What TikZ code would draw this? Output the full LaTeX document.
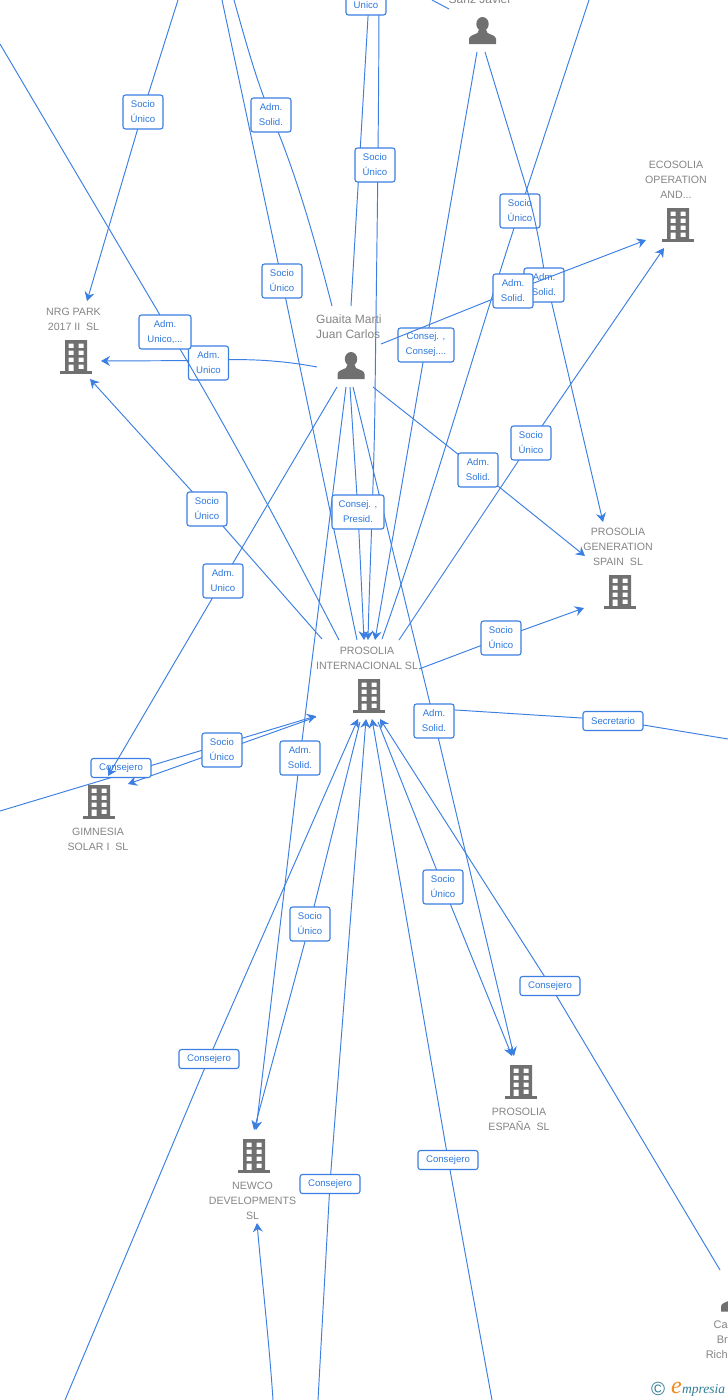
\documentclass[tikz,border=0pt]{standalone}
\usepackage{fontspec}
\setmainfont{Liberation Sans}
\newfontfamily\logofont{Liberation Serif}
\usetikzlibrary{arrows.meta}
\definecolor{edgeblue}{HTML}{3B7FE3}
\definecolor{labblue}{HTML}{2F78DC}
\definecolor{nameGray}{HTML}{858585}
\definecolor{iconGray}{HTML}{707070}
\definecolor{logoTeal}{HTML}{2F7F96}
\definecolor{logoOrange}{HTML}{F08A1D}
\tikzset{
  conn/.style={draw=edgeblue,line width=0.95pt},
  tipped/.style={conn,-{Stealth[length=9pt,width=10pt,inset=3pt]}},
  lab/.style={draw=edgeblue,line width=1.1pt,fill=white,rounded corners=2.5pt,text=labblue,yshift=-1pt,
    font=\fontsize{9.6}{15}\selectfont,align=center,inner sep=0pt,minimum width=40pt,minimum height=34pt},
  labone/.style={lab,minimum width=60pt,minimum height=19pt},
  compname/.style={text=nameGray,yshift=-1pt,font=\fontsize{10.6}{15}\selectfont,align=center,inner sep=0pt},
  persname/.style={text=nameGray,yshift=-1pt,font=\fontsize{12}{15}\selectfont,inner sep=0pt},
  bldg/.pic={
    \fill[iconGray] (-16,17) rectangle (16,14.4);
    \fill[iconGray,even odd rule] (-11,-17) rectangle (11,14.6)
      (-7.5,-13.5) rectangle (-2.5,-9) (2.5,-13.5) rectangle (7.5,-9)
      (-7.5,-6.5) rectangle (-2.5,-2) (2.5,-6.5) rectangle (7.5,-2)
      (-7.5,0.5) rectangle (-2.5,5) (2.5,0.5) rectangle (7.5,5)
      (-7.5,7.5) rectangle (-2.5,14.6) (2.5,7.5) rectangle (7.5,12);
  },
  pers/.pic={
    \fill[iconGray] (0,-6.5) ellipse (6.2pt and 7pt);
    \fill[iconGray] (-13.5,13.5) -- (-13.5,8.5) .. controls (-13.5,5) and (-8,4.2) .. (-5,2.5)
      -- (-3.5,-1) -- (3.5,-1) -- (5,2.5) .. controls (8,4.2) and (13.5,5) .. (13.5,8.5) -- (13.5,13.5) -- cycle;
  }
}
\begin{document}
\begin{tikzpicture}[x=1pt,y=-1pt]
\clip (0,0) rectangle (728,1400);
\fill[white] (0,0) rectangle (728,1400);

% free ends
\coordinate (a1) at (178,0);      \coordinate (b1) at (87,301);
\coordinate (a2) at (0,44);       \coordinate (b2) at (339,640);
\coordinate (a3) at (234,0);      \coordinate (b3) at (332,306);
\coordinate (a4) at (222,0);      \coordinate (b4) at (357,640);
\coordinate (a5) at (369,0);      \coordinate (b5) at (351,306);
\coordinate (a6) at (379,0);      \coordinate (b6) at (368,640);
\coordinate (a7) at (350,387);    \coordinate (b7) at (364,640);
\coordinate (a8) at (477,52);     \coordinate (b8) at (375,640);
\coordinate (a9) at (485,52);     \coordinate (b9) at (603,522);
\coordinate (a10) at (589,0);     \coordinate (b10) at (382,639);
\coordinate (a11) at (381,344);   \coordinate (b11) at (646,240);
\coordinate (a12) at (399,640);   \coordinate (b12) at (664,248);
\coordinate (a13) at (373,387);   \coordinate (b13) at (585,556);
\coordinate (a14) at (419,669);   \coordinate (b14) at (584,608);
\coordinate (a15) at (317,367);   \coordinate (b15) at (101,361);
\coordinate (a16) at (322,639);   \coordinate (b16) at (90,379);
\coordinate (a17) at (337,387);   \coordinate (b17) at (108,776);
\coordinate (a18) at (346,387);   \coordinate (b18) at (256,1130);
\coordinate (a19) at (353,387);   \coordinate (b19) at (514,1056);
\coordinate (a20) at (0,811);     \coordinate (b20) at (316,716);
\coordinate (a21) at (316,717);   \coordinate (b21) at (128,784);
\coordinate (a22) at (360,722);   \coordinate (b22) at (254,1130);
\coordinate (a23) at (378,722);   \coordinate (b23) at (512,1056);
\coordinate (a24) at (65,1400);   \coordinate (b24) at (358,719);
\coordinate (a25) at (318,1400);  \coordinate (b25) at (366,719);
\coordinate (a26) at (492,1400);  \coordinate (b26) at (372,719);
\coordinate (a27) at (720,1270);  \coordinate (b27) at (380,719);
\coordinate (a28) at (273,1400);  \coordinate (b28) at (257,1223);
\coordinate (a29) at (432,0);     \coordinate (b29) at (449,9);
\coordinate (a30) at (440,709);   \coordinate (b30) at (728,739);

% company and person names
\node[compname] (nrg) at (73.5,318.5) {NRG PARK\\2017 II\ \ SL};
\node[compname] (eco) at (676,179) {ECOSOLIA\\OPERATION\\AND...};
\node[compname] (gen) at (618,546) {PROSOLIA\\GENERATION\\SPAIN\ \ SL};
\node[compname] (intl) at (367,657.5) {PROSOLIA\\INTERNACIONAL SL};
\node[compname] (gim) at (98,838.5) {GIMNESIA\\SOLAR I\ \ SL};
\node[compname] (esp) at (519,1118.5) {PROSOLIA\\ESPAÑA\ \ SL};
\node[compname] (newco) at (252.5,1200) {NEWCO\\DEVELOPMENTS\\SL};
\node[persname,align=left,anchor=west] (guaita) at (316,325.5) {Guaita Marti\\Juan Carlos};
\node[persname,anchor=center] (sanz) at (480,-2) {Sanz Javier};
\node[persname,align=right,anchor=east,font=\fontsize{11}{15}\selectfont] (rich) at (728,1339) {Ca\\Br\\Rich};

% icons
\pic at (76,357) {bldg};
\pic at (678,225) {bldg};
\pic at (620,592) {bldg};
\pic at (369,696) {bldg};
\pic at (99,802) {bldg};
\pic at (521,1082) {bldg};
\pic at (254,1156) {bldg};
\pic at (351,365.5) {pers};
\pic at (482.5,30.5) {pers};
\pic at (734.5,1298) {pers};

% connectors and their labels
\draw[conn] (a29) -- (b29);
\draw[conn] (a24) -- (209,1058) coordinate (j24);
\draw[tipped] (j24) -- (b24);
\node[labone] (l24) at (209,1058) {Consejero};
\draw[conn] (a25) -- (330,1183) coordinate (j25);
\draw[tipped] (j25) -- (b25);
\node[labone] (l25) at (330,1183) {Consejero};
\draw[conn] (a26) -- (448,1159) coordinate (j26);
\draw[tipped] (j26) -- (b26);
\node[labone] (l26) at (448,1159) {Consejero};
\draw[conn] (a27) -- (550,985) coordinate (j27);
\draw[tipped] (j27) -- (b27);
\node[labone] (l27) at (550,985) {Consejero};
\draw[tipped] (a28) .. controls (269,1340) and (262,1280) .. (b28);

\draw[conn] (a22) -- (310,923) coordinate (j22);
\draw[tipped] (j22) -- (b22);
\node[lab] (l22) at (310,923) {Socio\\Único};
\draw[conn] (a23) -- (443,886) coordinate (j23);
\draw[tipped] (j23) -- (b23);
\node[lab] (l23) at (443,886) {Socio\\Único};
\draw[conn] (a18) -- (300,757) coordinate (j18);
\draw[tipped] (j18) -- (b18);
\node[lab] (l18) at (300,757) {Adm.\\Solid.};

\draw[conn] (a19) -- (434,720) coordinate (j19);
\draw[tipped] (j19) -- (b19);
\draw[conn] (a30) -- (613,720) coordinate (j30);
\draw[conn] (j30) -- (b30);
\node[labone,minimum width=60pt] (l30) at (613,720) {Secretario};
\node[lab] (l19) at (434,720) {Adm.\\Solid.};

\draw[tipped] (a20) -- (b20);
\draw[tipped] (a21) -- (b21);
\node[labone] (l20) at (121,767) {Consejero};
\node[lab] (l21) at (222,749) {Socio\\Único};
\draw[conn] (a17) -- (223,580) coordinate (j17);
\draw[tipped] (j17) -- (b17);
\node[lab] (l17) at (223,580) {Adm.\\Unico};

\draw[conn] (a16) -- (207,508) coordinate (j16);
\draw[tipped] (j16) -- (b16);
\node[lab] (l16) at (207,508) {Socio\\Único};

\draw[conn] (a1) -- (143,111) coordinate (j1);
\draw[tipped] (j1) -- (b1);
\node[lab] (l1) at (143,111) {Socio\\Único};
\draw[conn] (a15) .. controls (285,361) and (250,358) .. (208,360.5) coordinate (j15);
\draw[tipped] (j15) -- (b15);
\node[lab] (l15) at (208.5,362) {Adm.\\Unico};
\draw[conn] (a2) -- (180,349) .. controls (230,433) and (290,545) .. (b2);
\node[lab,minimum width=52pt] (l2) at (165,331) {Adm.\\Unico,...};

\draw[conn] (a3) .. controls (248,50) and (258,85) .. (271,115) coordinate (j3);
\draw[conn] (j3) .. controls (295,170) and (315,240) .. (b3);
\node[lab] (l3) at (271,114) {Adm.\\Solid.};
\draw[conn] (a4) -- (282,281) coordinate (j4);
\draw[conn] (j4) -- (b4);
\node[lab] (l4) at (282,280) {Socio\\Único};

\draw[conn] (a5) -- (b5);
\draw[tipped] (a6) .. controls (378.7,150) and (376,300) .. (375,400) .. controls (374,480) and (370,560) .. (b6);
\node[lab] (l6) at (375,164) {Socio\\Único};
\node[lab] (l5) at (366,-3) {Socio\\Unico};

\draw[conn] (a7) -- (358,512) coordinate (j7);
\draw[tipped] (j7) -- (b7);
\node[lab,minimum width=52pt] (l7) at (358,511) {Consej. ,\\Presid.};

\draw[conn] (a8) -- (426,345) coordinate (j8);
\draw[tipped] (j8) -- (b8);
\node[lab,minimum width=56pt] (l8) at (426,344) {Consej. ,\\Consej....};

\draw[conn] (a10) -- (520,210) coordinate (j10);
\draw[conn] (j10) .. controls (480,330) and (435,490) .. (b10);
\node[lab] (l10) at (520,210) {Socio\\Único};
\draw[conn] (a9) -- (528,193) .. controls (535,218) and (540,245) .. (544,270) coordinate (j9);
\draw[tipped] (j9) -- (b9);
\node[lab] (l9) at (544,284) {Adm.\\Solid.};
\draw[conn] (a11) -- (513,291) coordinate (j11);
\draw[tipped] (j11) -- (b11);
\node[lab] (l11) at (513,290) {Adm.\\Solid.};

\draw[conn] (a13) -- (478,470) coordinate (j13);
\draw[tipped] (j13) -- (b13);
\node[lab] (l13) at (478,469) {Adm.\\Solid.};
\draw[conn] (a12) -- (531,442) coordinate (j12);
\draw[tipped] (j12) -- (b12);
\node[lab] (l12) at (531,442) {Socio\\Único};
\draw[conn] (a14) -- (501,638) coordinate (j14);
\draw[tipped] (j14) -- (b14);
\node[lab] (l14) at (501,637) {Socio\\Único};

% logo
\node[inner sep=0pt,anchor=center,text=logoTeal,font=\fontsize{19}{19}\selectfont] (logoc) at (658,1389) {©};
\node[inner sep=0pt,anchor=base west,text=logoOrange,font=\logofont\itshape\fontsize{24}{24}\selectfont] (logoe) at (671,1393) {e};
\node[inner sep=0pt,anchor=base west,text=logoTeal,font=\logofont\itshape\fontsize{13.5}{14}\selectfont] (logom) at (682,1393) {mpresia};
\end{tikzpicture}
\end{document}
